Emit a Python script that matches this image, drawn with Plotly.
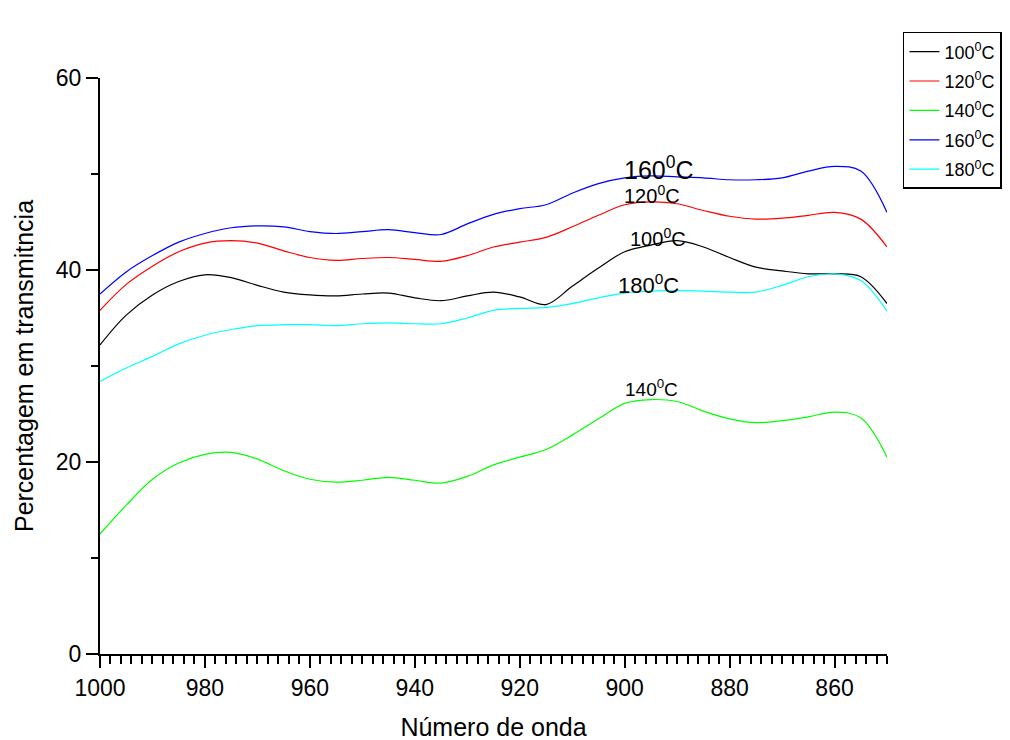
import plotly.graph_objects as go

wavenumber = [1000, 995, 990, 985, 980, 975, 970, 965, 960, 955, 950, 945, 940, 935, 930, 925,
              920, 915, 910, 905, 900, 895, 890, 885, 880, 875, 870, 865, 860, 855, 850]

t100 = [32.2, 35.3, 37.4, 38.8, 39.5, 39.2, 38.4, 37.7, 37.4, 37.3, 37.5, 37.6, 37.1, 36.8, 37.3, 37.7,
        37.2, 36.4, 38.3, 40.2, 41.9, 42.6, 43.05, 42.4, 41.3, 40.3, 39.9, 39.6, 39.6, 39.3, 36.5]
t120 = [35.8, 38.5, 40.4, 41.9, 42.8, 43.05, 42.8, 42.0, 41.3, 41.0, 41.2, 41.3, 41.1, 40.9, 41.5, 42.4,
        42.9, 43.4, 44.5, 45.7, 46.8, 47.1, 46.9, 46.2, 45.6, 45.3, 45.4, 45.7, 46.0, 45.3, 42.4]
t140 = [12.5, 15.5, 18.2, 19.9, 20.8, 21.0, 20.3, 19.1, 18.2, 17.9, 18.1, 18.4, 18.1, 17.8, 18.5, 19.7,
        20.5, 21.3, 22.8, 24.5, 26.1, 26.5, 26.3, 25.3, 24.5, 24.1, 24.3, 24.7, 25.2, 24.6, 20.5]
t160 = [37.5, 39.8, 41.5, 42.9, 43.8, 44.4, 44.6, 44.5, 44.0, 43.8, 44.0, 44.2, 43.9, 43.7, 44.8, 45.8,
        46.4, 46.8, 48.0, 49.0, 49.6, 49.8, 49.7, 49.6, 49.4, 49.4, 49.6, 50.3, 50.8, 50.3, 46.0]
t180 = [28.4, 29.8, 31.0, 32.3, 33.2, 33.8, 34.2, 34.3, 34.3, 34.2, 34.4, 34.5, 34.4, 34.4, 35.0, 35.8,
        36.0, 36.1, 36.5, 37.1, 37.6, 37.8, 37.85, 37.8, 37.7, 37.7, 38.4, 39.3, 39.6, 38.9, 35.7]

series_names = ["100<sup>0</sup>C", "120<sup>0</sup>C", "140<sup>0</sup>C", "160<sup>0</sup>C", "180<sup>0</sup>C"]
series_values = [t100, t120, t140, t160, t180]
series_colors = ["#000000", "#ff0000", "#00ff00", "#0000ff", "#00ffff"]

# in-plot labels: (text, x, y, font size)
label_texts = ["160<sup>0</sup>C", "120<sup>0</sup>C", "100<sup>0</sup>C", "180<sup>0</sup>C", "140<sup>0</sup>C"]
label_x = [893.5, 894.7, 893.7, 895.4, 894.8]
label_y = [48.7, 46.4, 41.9, 36.9, 26.2]
label_sizes = [25, 20, 20, 22, 19]

font_family = "Liberation Sans, Arial, sans-serif"

fig = go.Figure()
for i, (name, vals, col) in enumerate(zip(series_names, series_values, series_colors)):
    fig.add_trace(go.Scatter(x=wavenumber, y=vals, mode="lines", name=name, legendgroup=f"g{i}",
                             line=dict(color=col, width=1.2, shape="spline", smoothing=1.0)))

for txt, lx, ly, sz in zip(label_texts, label_x, label_y, label_sizes):
    fig.add_annotation(x=lx, y=ly, text=txt, showarrow=False, xanchor="center", yanchor="bottom",
                       font=dict(size=sz, color="black", family=font_family))

fig.update_layout(
    width=1010, height=740,
    paper_bgcolor="white", plot_bgcolor="white",
    margin=dict(l=92, r=131, t=70, b=94, autoexpand=False),
    font=dict(family=font_family, color="black", size=22),
    showlegend=True,
    legend=dict(x=1.0203, y=1.08, xanchor="left", yanchor="top",
                bordercolor="black", borderwidth=1.5, bgcolor="white",
                font=dict(size=18, family=font_family), tracegroupgap=3,
                itemwidth=30),
)
fig.update_xaxes(range=[1000, 850], showline=True, linecolor="black", linewidth=2,
                 ticks="outside", ticklen=12, tickwidth=2, tickcolor="black", dtick=20, tick0=1000,
                 minor=dict(dtick=2, ticks="outside", ticklen=8, tickwidth=1.5, tickcolor="black"),
                 showgrid=False, zeroline=False, automargin=False,
                 title=dict(text="Número de onda", font=dict(size=25), standoff=19),
                 tickfont=dict(size=23))
fig.update_yaxes(range=[0, 60], showline=True, linecolor="black", linewidth=2,
                 ticks="outside", ticklen=12, tickwidth=2, tickcolor="black", dtick=20, tick0=0,
                 minor=dict(dtick=10, ticks="outside", ticklen=7, tickwidth=1.5, tickcolor="black"),
                 showgrid=False, zeroline=False, automargin=False,
                 title=dict(text="Percentagem em transmitncia", font=dict(size=25), standoff=15),
                 tickfont=dict(size=23))

fig.write_html("out.html")
